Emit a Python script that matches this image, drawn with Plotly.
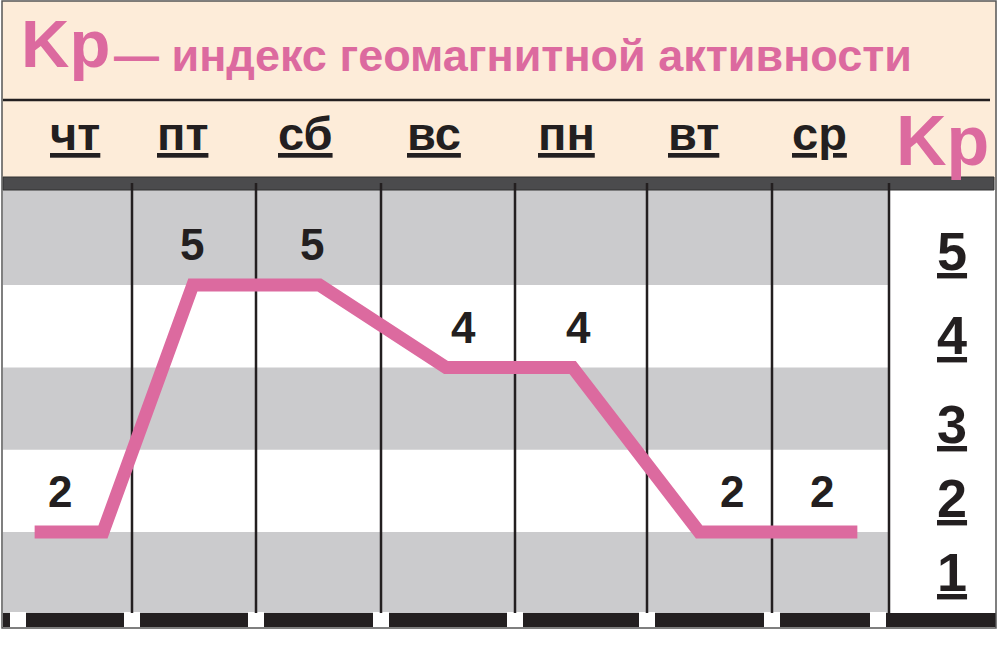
import plotly.graph_objects as go

# ---- данные (Kp по дням) ----
days = ["чт", "пт", "сб", "вс", "пн", "вт", "ср"]
kp = [2, 5, 5, 4, 4, 2, 2]
kp_levels = [1, 2, 3, 4, 5]
white_bands = [(2, 3), (4, 5)]

W, H = 1000, 663
PINK = "#dc6a9f"
PEACH = "#fdecd9"
GRAY = "#cbcbcd"
INK = "#231f20"
FONT = "Liberation Sans, Arial, sans-serif"


def px(x):
    return x / W


def py(y):
    return 1 - y / H


# пиксели -> оси (ось занимает всю картинку)
DAY_PX = 126.57
X0_PX = 3
V_PX = 82.3
V2_PY = 532
x_range = [(0 - X0_PX) / DAY_PX - 0.5, (W - X0_PX) / DAY_PX - 0.5]
y_range = [2 + (V2_PY - H) / V_PX, 2 + V2_PY / V_PX]

fig = go.Figure()

# линия Kp: полочка на первом дне, хвост на последнем
line_x = [-0.25, 0.29] + list(range(1, len(days))) + [len(days) - 1 + 0.25]
line_y = [kp[0], kp[0]] + kp[1:] + [kp[-1]]
fig.add_trace(go.Scatter(
    x=line_x, y=line_y, mode="lines",
    line=dict(color=PINK, width=13),
    hoverinfo="skip", showlegend=False,
))

shapes = []
# шапка
shapes.append(dict(type="rect", xref="paper", yref="paper",
                   x0=px(2), x1=px(996), y0=py(1), y1=py(180),
                   fillcolor=PEACH, line=dict(width=0), layer="below"))
shapes.append(dict(type="line", xref="paper", yref="paper",
                   x0=px(3), x1=px(990), y0=py(100), y1=py(100),
                   line=dict(color=INK, width=2.5), layer="below"))
# поле графика (серое) + белые полосы
shapes.append(dict(type="rect", xref="paper", yref="paper",
                   x0=px(3), x1=px(889), y0=py(190), y1=py(613),
                   fillcolor=GRAY, line=dict(width=0), layer="below"))
for lo, hi in white_bands:
    shapes.append(dict(type="rect", xref="paper", yref="y",
                       x0=px(3), x1=px(889), y0=lo, y1=hi,
                       fillcolor="white", line=dict(width=0), layer="below"))
# тёмная полоса под шапкой
shapes.append(dict(type="rect", xref="paper", yref="paper",
                   x0=px(3), x1=px(994), y0=py(177), y1=py(190),
                   fillcolor="#4b4b4d", line=dict(color="#333333", width=1), layer="below"))
# нижняя чёрная полоса с просветами
shapes.append(dict(type="rect", xref="paper", yref="paper",
                   x0=px(3), x1=px(996), y0=py(613), y1=py(627),
                   fillcolor=INK, line=dict(width=0), layer="below"))
sep_px = [132, 256, 381, 515, 647, 772]
for gx in [18] + sep_px + [878]:
    shapes.append(dict(type="rect", xref="paper", yref="paper",
                       x0=px(gx - 8), x1=px(gx + 8), y0=py(612), y1=py(628),
                       fillcolor="white", line=dict(width=0), layer="below"))
# вертикальные разделители дней
for sx in sep_px + [889]:
    shapes.append(dict(type="line", xref="paper", yref="paper",
                       x0=px(sx), x1=px(sx), y0=py(183), y1=py(613),
                       line=dict(color=INK, width=2.5), layer="below"))
# рамка
shapes.append(dict(type="rect", xref="paper", yref="paper",
                   x0=px(2), x1=px(996), y0=py(1), y1=py(628),
                   line=dict(color="#555555", width=1.5), layer="below"))

ann = []
# заголовок
ann.append(dict(x=px(19), y=py(44), xref="paper", yref="paper",
                text="<b>Kp</b>", showarrow=False, xanchor="left", yanchor="middle",
                font=dict(family=FONT, size=67, color=PINK)))
ann.append(dict(x=px(112), y=py(55), xref="paper", yref="paper",
                text="<b>— индекс геомагнитной активности</b>", showarrow=False,
                xanchor="left", yanchor="middle",
                font=dict(family=FONT, size=45, color=PINK)))
# Kp справа в шапке
ann.append(dict(x=px(942), y=py(141), xref="paper", yref="paper",
                text="<b>Kp</b>", showarrow=False, xanchor="center", yanchor="middle",
                font=dict(family=FONT, size=70, color=PINK)))
# дни
day_dx = [9, -10, -14, -12, -6, -6, -6]
for i, d in enumerate(days):
    ann.append(dict(x=i, y=py(134), xref="x", yref="paper", xshift=day_dx[i],
                    xanchor="center", yanchor="middle",
                    text=f"<b><u>{d}</u></b>", showarrow=False,
                    font=dict(family=FONT, size=47, color=INK)))
# значения над линией
label_dx = [-6, -1, -7, 17, 6, 33, -4]
for i, v in enumerate(kp):
    ann.append(dict(x=i, y=v + 0.49, xref="x", yref="y", xshift=label_dx[i],
                    xanchor="center", yanchor="middle",
                    text=f"<b>{v}</b>", showarrow=False,
                    font=dict(family=FONT, size=44, color=INK)))
# шкала Kp справа
level_dy = [0.52, 0.41, 0.31, 0.39, 0.41]
for v, dy in zip(kp_levels, level_dy):
    ann.append(dict(x=px(952), y=v + dy, xref="paper", yref="y",
                    xanchor="center", yanchor="middle",
                    text=f"<b><u>{v}</u></b>", showarrow=False,
                    font=dict(family=FONT, size=54, color=INK)))

fig.update_layout(
    width=W, height=H,
    margin=dict(l=0, r=0, t=0, b=0),
    paper_bgcolor="white", plot_bgcolor="white",
    xaxis=dict(range=x_range, visible=False, fixedrange=True),
    yaxis=dict(range=y_range, visible=False, fixedrange=True),
    shapes=shapes, annotations=ann,
    showlegend=False,
)

fig.write_html("out.html", config={"displayModeBar": False},
               post_script="document.body.style.margin='0';")
